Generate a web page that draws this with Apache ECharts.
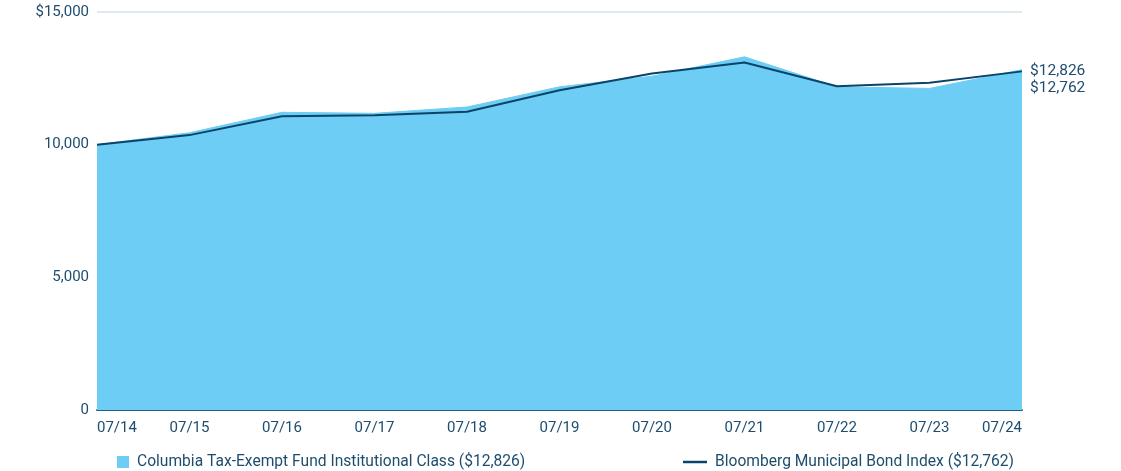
<!DOCTYPE html>
<html>
<head>
<meta charset="utf-8">
<script src="https://cdn.jsdelivr.net/npm/echarts@6/dist/echarts.min.js"></script>
<style>
html,body{margin:0;padding:0;background:#fff;}
#chart{width:1121px;height:471px;}
</style>
</head>
<body>
<div id="chart"></div>
<script>
const categories = ['07/14','07/15','07/16','07/17','07/18','07/19','07/20','07/21','07/22','07/23','07/24'];
const fundName = 'Columbia Tax-Exempt Fund Institutional Class ($12,826)';
const indexName = 'Bloomberg Municipal Bond Index ($12,762)';
const fundValues = [10000,10450,11220,11180,11420,12180,12580,13310,12180,12120,12826];
const indexValues = [10000,10360,11070,11110,11240,12050,12680,13100,12200,12330,12762];
const fundEndLabel = '$12,826';
const indexEndLabel = '$12,762';

const FONT = 'Roboto,"Liberation Sans",sans-serif';
const TEXT = '#1E4D6E';
const AREA = '#6DCDF4';
const LINE = '#0B4468';

const chart = echarts.init(document.getElementById('chart'));
chart.setOption({
  animation: false,
  textStyle: {fontFamily: FONT},
  grid: {left: 97, right: 99, top: 12, bottom: 61, containLabel: false},
  legend: [
    {data: [{name: fundName, icon: 'rect'}], left: 112, top: 449, itemWidth: 12, itemHeight: 12, itemGap: 10,
     textStyle: {color: TEXT, fontSize: 15.6, fontFamily: FONT, padding: [0, 0, 0, 3]}},
    {data: [{name: indexName, icon: 'path://M0,0 L24,0 L24,2.5 L0,2.5 Z'}], left: 678, top: 449, itemWidth: 24, itemHeight: 3, itemGap: 10,
     textStyle: {color: TEXT, fontSize: 15.6, fontFamily: FONT, padding: [0, 0, 0, 3]}}
  ],
  xAxis: {
    type: 'category',
    data: categories,
    boundaryGap: false,
    axisLine: {lineStyle: {color: '#1D5F86', width: 2}},
    axisTick: {show: false},
    axisLabel: {color: TEXT, fontSize: 15, margin: 11, fontFamily: FONT, alignMinLabel: 'left', alignMaxLabel: 'right'}
  },
  yAxis: {
    type: 'value',
    min: 0, max: 15000, interval: 5000,
    axisLine: {show: false},
    axisTick: {show: false},
    splitLine: {lineStyle: {color: '#D5E2EA', width: 1.5}},
    axisLabel: {color: TEXT, fontSize: 15, margin: 8, fontFamily: FONT,
      formatter: v => v === 15000 ? '$15,000' : v.toLocaleString('en-US')}
  },
  series: [
    {
      name: fundName, type: 'line', data: fundValues,
      symbol: 'none', itemStyle: {color: AREA},
      lineStyle: {color: AREA, width: 1},
      areaStyle: {color: AREA, opacity: 1},
      endLabel: {show: true, formatter: fundEndLabel, color: TEXT, fontSize: 15.5, fontFamily: FONT, distance: 8, offset: [0, 1]},
      z: 2
    },
    {
      name: indexName, type: 'line', data: indexValues,
      symbol: 'none', itemStyle: {color: LINE},
      lineStyle: {color: LINE, width: 2},
      endLabel: {show: true, formatter: indexEndLabel, color: TEXT, fontSize: 15.5, fontFamily: FONT, distance: 8, offset: [0, 17]},
      z: 3
    }
  ]
});
</script>
</body>
</html>
